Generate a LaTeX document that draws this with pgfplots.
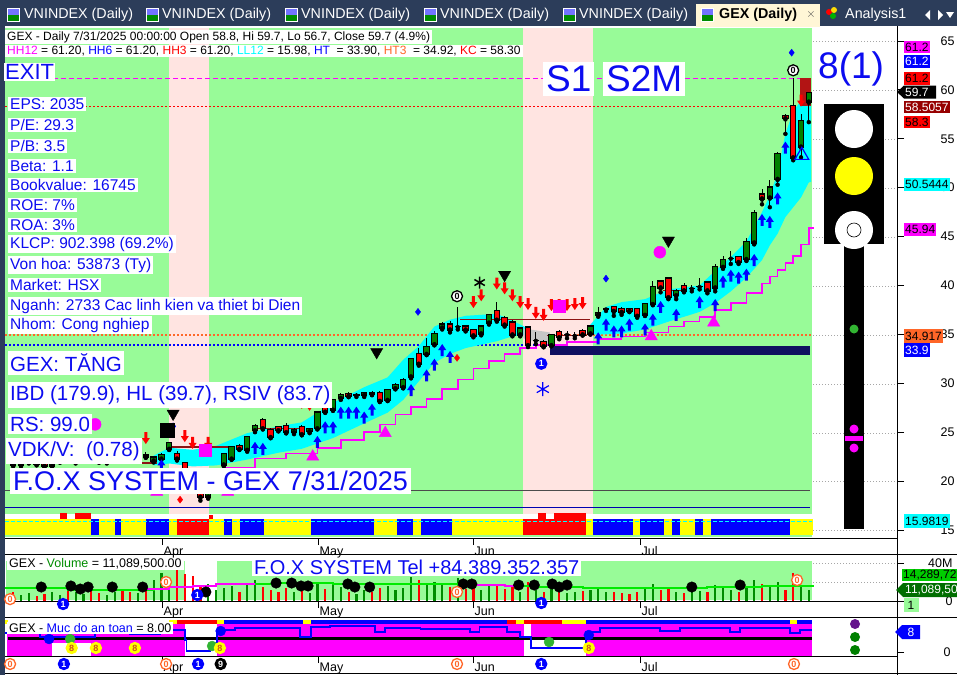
\documentclass[border=0pt]{standalone}
\usepackage{pgfplots}
\pgfplotsset{compat=1.18}
\usepackage{pgfplotstable}
\usepackage{fontspec}
\setmainfont{Liberation Sans}
\newcommand\fs[1]{\fontsize{#1}{#1}\selectfont}
\definecolor{tabbg}{RGB}{44,61,90}
\definecolor{tabcream}{RGB}{255,246,214}
\definecolor{pgreen}{RGB}{152,251,152}
\definecolor{ppink}{RGB}{255,228,225}
\definecolor{fblue}{RGB}{12,12,240}
\definecolor{mag}{RGB}{255,0,255}
\definecolor{navyb}{RGB}{16,16,96}
\definecolor{cgreen}{RGB}{0,128,0}
\definecolor{dred}{RGB}{150,0,0}
\definecolor{brl}{RGB}{140,20,20}
\definecolor{orng}{RGB}{255,102,40}
\definecolor{dkgreen}{RGB}{0,110,0}
\definecolor{lgreen}{RGB}{0,204,0}
\definecolor{vgreen}{RGB}{0,140,0}
\definecolor{maline}{RGB}{0,235,0}
\definecolor{ylw}{RGB}{255,255,0}
\definecolor{purp}{RGB}{100,20,140}
\definecolor{dred2}{RGB}{178,20,20}
\definecolor{cy}{RGB}{0,255,255}
\definecolor{gdot}{RGB}{50,180,50}

\pgfplotsset{
  circlab/.style n args={3}{only marks, mark=none, point meta=explicit symbolic, nodes near coords,
     every node near coord/.append style={circle, draw=#1, fill=#2, text=#3, line width=1.3pt, inner sep=0pt,
     minimum size=11pt, font=\fs{9}\bfseries, anchor=center}},
}
\pgfdeclareplotmark{uparr}{%
  \pgfpathmoveto{\pgfqpoint{-4pt}{0pt}}\pgfpathlineto{\pgfqpoint{0pt}{6pt}}\pgfpathlineto{\pgfqpoint{4pt}{0pt}}%
  \pgfpathlineto{\pgfqpoint{1.5pt}{0pt}}\pgfpathlineto{\pgfqpoint{1.5pt}{-6pt}}\pgfpathlineto{\pgfqpoint{-1.5pt}{-6pt}}%
  \pgfpathlineto{\pgfqpoint{-1.5pt}{0pt}}\pgfpathclose\pgfusepathqfill}
\pgfdeclareplotmark{dnarr}{%
  \pgfpathmoveto{\pgfqpoint{-4pt}{0pt}}\pgfpathlineto{\pgfqpoint{0pt}{-6pt}}\pgfpathlineto{\pgfqpoint{4pt}{0pt}}%
  \pgfpathlineto{\pgfqpoint{1.5pt}{0pt}}\pgfpathlineto{\pgfqpoint{1.5pt}{6pt}}\pgfpathlineto{\pgfqpoint{-1.5pt}{6pt}}%
  \pgfpathlineto{\pgfqpoint{-1.5pt}{0pt}}\pgfpathclose\pgfusepathqfill}

% up candles: i open high low close volume(M)
\pgfplotstableread{
i O H L C V
0 21.7 22.2 21.5 22.0 6
1 22.0 22.4 21.8 22.1 8
4 21.6 22.1 21.5 22.0 10
5 22.0 22.5 21.9 22.3 6
7 22.1 22.4 21.8 22.2 9
8 22.2 22.8 22.1 22.6 7
11 22.0 22.4 21.8 22.3 6
12 22.3 22.9 22.2 22.7 9
15 22.1 22.7 22.0 22.6 8
17 22.1 22.5 21.9 22.4 22
18 22.3 22.9 22.2 22.7 30
19 23.3 24.0 23.2 23.9 24
24 18.4 19.6 18.2 19.4 18
25 19.4 21.2 19.3 21.0 12
26 21.7 22.9 21.5 22.8 14
27 22.3 23.6 22.2 23.5 16
29 23.2 24.6 23.0 24.5 17
30 25.2 25.8 25.0 25.6 22
35 25.0 25.4 24.8 25.2 9
37 25.1 25.4 24.9 25.3 8
38 25.4 27.2 25.3 27.0 20
40 27.3 28.4 27.2 28.3 18
41 28.5 29.0 28.3 28.8 15
44 28.8 29.1 28.6 29.0 12
47 28.3 29.4 28.2 29.3 16
48 29.5 30.0 29.4 29.8 12
49 29.6 30.5 29.5 30.3 14
50 30.7 32.6 30.5 32.5 25
52 33.0 34.6 32.9 33.7 18
53 34.0 35.3 33.9 35.0 20
54 35.7 36.3 35.5 36.0 17
59 35.1 36.0 34.9 35.8 12
60 36.2 37.1 36.0 37.0 16
64 35.0 35.8 34.8 35.6 10
68 33.9 35.0 33.8 34.9 14
73 35.1 36.0 35.0 35.8 12
74 37.0 37.8 36.8 37.2 15
80 37.0 38.2 36.9 38.1 13
81 38.1 40.5 38.0 39.8 18
84 39.0 39.6 38.6 39.4 9
89 39.8 42.2 39.4 41.9 17
90 41.9 43.0 41.7 42.6 14
93 42.7 44.9 42.5 44.4 16
94 44.4 47.7 44.2 47.4 22
96 49.0 50.8 48.0 50.0 15
97 50.9 53.6 50.3 53.4 20
100 54.2 57.5 53.1 56.8 16
101 58.8 59.7 56.7 59.7 11.09
}\cup
% down candles
\pgfplotstableread{
i O H L C V
-1 22.0 22.3 21.5 21.7 9
2 22.1 22.3 21.6 21.8 5
3 21.8 22.0 21.4 21.6 7
6 22.3 22.6 22.0 22.1 12
9 22.6 22.7 22.2 22.3 11
10 22.3 22.5 21.9 22.0 8
13 22.7 22.9 22.3 22.4 13
14 22.4 22.6 22.0 22.1 10
16 22.6 23.0 22.4 22.5 12
20 22.8 23.1 22.1 22.3 35
21 21.8 22.0 20.5 20.6 28
22 20.6 20.8 19.0 19.2 26
23 19.2 19.5 18.0 18.4 15
28 23.6 23.8 23.2 23.3 10
31 26.2 26.4 25.3 25.4 15
32 25.2 25.4 24.4 24.5 12
33 25.5 25.6 25.1 25.2 10
34 25.6 25.9 24.9 25.0 14
36 25.5 25.7 24.7 24.8 11
39 27.5 27.7 27.0 27.1 13
42 28.9 29.1 28.6 28.7 9
45 29.0 29.2 28.8 28.9 10
46 29.0 29.2 28.1 28.2 14
51 33.0 33.6 31.8 32.0 22
55 36.0 36.4 35.2 35.5 15
57 35.8 36.0 35.3 35.5 13
58 35.4 35.6 34.7 34.9 14
61 37.4 38.3 36.3 36.5 18
62 36.7 36.9 35.8 36.0 13
63 36.2 36.5 34.8 35.0 15
65 35.7 35.9 33.7 33.9 20
67 34.2 34.4 33.7 33.8 9
69 35.2 35.4 34.5 34.7 10
72 35.3 35.5 34.9 35.0 11
76 37.8 37.9 36.9 37.4 9
77 37.6 37.8 37.0 37.3 8
78 37.6 37.7 37.3 37.4 7
79 37.6 37.7 36.7 36.9 9
82 40.4 40.5 39.3 39.8 12
83 40.7 40.8 38.6 38.8 14
85 39.9 40.3 39.3 39.5 8
88 40.3 40.4 39.2 39.5 9
92 42.9 43.0 42.2 42.4 10
95 49.3 49.9 48.3 48.9 18
98 57.3 57.5 55.5 57.1 12
99 58.3 61.2 52.8 53.1 30
}\cdn
% doji candles
\pgfplotstableread{
i O H L C V
43 28.8 29.0 28.6 28.8 7
56 35.8 37.8 35.5 35.8 24
66 34.4 35.2 34.0 34.4 12
70 35.0 35.3 34.6 35.0 8
71 34.9 35.2 34.6 34.9 9
75 37.6 37.7 37.4 37.6 10
86 39.7 40.0 39.4 39.7 10
87 39.9 40.8 39.6 39.9 11
91 42.8 43.5 42.2 42.8 12
}\cdj

\newcommand\R[5]{\fill[#1] (#2,#3) rectangle (#4,#5);}
\newcommand\G[1]{\draw[gray!70, dash pattern=on 1pt off 2pt] (813,#1) -- (896,#1);}
\tikzset{tb/.style={fill=white, text=fblue, anchor=west, inner xsep=2pt, inner ysep=1.5pt}}
\pgfplotsset{
  wick/.style={only marks, mark=none, error bars/.cd, y dir=plus, y explicit, error mark=none,
     error bar style={line width=1pt, black}},
  body/.style 2 args={only marks, mark=none, error bars/.cd, y dir=plus, y explicit, error mark=none,
     error bar style={line width=#1, #2}},
}

\begin{document}
\begin{tikzpicture}
\useasboundingbox (0,0) rectangle (957pt,675pt);
%================ background canvas (pixel coordinates)
\begin{axis}[at={(0pt,0pt)},anchor=south west,scale only axis,width=957pt,height=675pt,
  xmin=0,xmax=957,ymin=0,ymax=675,y dir=reverse,hide axis,clip=false]
\R{white}{0}{0}{957}{675}
\R{tabbg}{0}{0}{957}{26}
\R{tabbg}{0}{26}{4.5}{675}
\R{tabcream}{696}{4}{820}{27}
\R{pgreen}{5}{28}{812}{514}
\R{ppink}{169}{28}{209}{514}
\R{ppink}{523}{28}{593}{514}
\R{ylw}{5}{519}{91}{535}\R{blue}{91}{519}{99}{535}\R{ylw}{99}{519}{115}{535}\R{blue}{115}{519}{121}{535}
\R{ylw}{121}{519}{146}{535}\R{blue}{146}{519}{169}{535}\R{ylw}{169}{519}{177}{535}\R{red}{177}{519}{209}{535}
\R{ylw}{209}{519}{224}{535}\R{blue}{224}{519}{232}{535}\R{ylw}{232}{519}{240}{535}\R{blue}{240}{519}{264}{535}
\R{ylw}{264}{519}{311}{535}\R{blue}{311}{519}{374}{535}\R{ylw}{374}{519}{397}{535}\R{blue}{397}{519}{413}{535}
\R{ylw}{413}{519}{421}{535}\R{blue}{421}{519}{452}{535}\R{ylw}{452}{519}{523}{535}\R{red}{523}{519}{586}{535}
\R{ylw}{586}{519}{593}{535}\R{blue}{593}{519}{633}{535}\R{ylw}{633}{519}{640}{535}\R{blue}{640}{519}{664}{535}
\R{ylw}{664}{519}{672}{535}\R{blue}{672}{519}{680}{535}\R{ylw}{680}{519}{695}{535}\R{blue}{695}{519}{703}{535}
\R{ylw}{703}{519}{711}{535}\R{blue}{711}{519}{790}{535}\R{ylw}{790}{519}{813}{535}
\R{red}{60}{513}{67}{519}\R{red}{75}{513}{91}{519}\R{red}{538}{513}{546}{519}\R{red}{554}{513}{586}{519}\R{red}{209}{515}{213}{519}
\R{pgreen}{5}{535}{812}{537}
\draw[cy, line width=0.8pt, dash pattern=on 4pt off 2pt] (5,521) -- (812,521);
\G{41}\G{90}\G{139}\G{188}\G{237}\G{286}\G{335}\G{384}\G{433}\G{481}\G{530}\G{563}\G{582}
\R{pgreen}{6}{561}{185}{600}
\R{pgreen}{217}{561}{812}{600}
\R{ylw}{5}{620}{8}{624}\R{ylw}{169}{620}{177}{624}\R{red}{177}{620}{217}{624}\R{ylw}{217}{620}{224}{624}
\R{blue}{224}{620}{303}{624}\R{ylw}{303}{620}{311}{624}\R{blue}{311}{620}{507}{624}\R{red}{507}{620}{516}{624}
\R{ylw}{516}{620}{524}{624}\R{red}{524}{620}{562}{624}\R{ylw}{562}{620}{586}{624}\R{blue}{586}{620}{790}{624}
\R{ylw}{790}{620}{797}{624}\R{blue}{797}{620}{812}{624}
\draw[black, line width=1pt] (5,554) -- (957,554);
\draw[black, line width=1pt] (5,617) -- (957,617);
\draw[black, line width=1pt] (5,673) -- (957,673);
\draw[black, line width=1pt] (897,26) -- (897,675);
\end{axis}

%================ main price axis
\begin{axis}[at={(5pt,137pt)},anchor=south west,scale only axis,width=892pt,height=512pt,
  xmin=-2.0513,xmax=112.3077,ymin=14.18,ymax=66.53,
  axis x line*=bottom, axis y line*=right, axis line style={black,line width=1pt},
  xtick={18.08,38.08,57.95,79.36}, xticklabels={Apr,May,Jun,Jul},
  ytick={15,20,25,30,35,40,45,50,55,60,65}, yticklabels={15,20,25,30,35,40,45,50,55,60,65},
  tick align=outside, major tick length=7pt, tick style={black,line width=0.8pt},
  ticklabel style={font=\fs{12.5}},
  xticklabel style={anchor=north west, inner sep=1.5pt},
  yticklabel style={anchor=east, xshift=54pt}]
\addplot[mag, line width=0.9pt, dash pattern=on 5pt off 3pt] coordinates {(-2.05,61.2)(101.4,61.2)};
\addplot[red, line width=1.6pt, dash pattern=on 2pt off 2pt] coordinates {(-2.05,58.3)(101.4,58.3)};
\addplot[orng, line width=1.6pt, dash pattern=on 2pt off 2pt] coordinates {(-2.05,34.92)(101.4,34.92)};
\addplot[blue, line width=1.6pt, dash pattern=on 2pt off 2pt] coordinates {(-2.05,33.9)(67.8,33.9)};
\addplot[gray!60!black, line width=0.7pt] coordinates {(-2.05,19.09)(101.2,19.09)};
\addplot[blue!70!black, line width=0.9pt] coordinates {(-2.05,17.3)(101.2,17.3)};
% cyan bands (upper edge forward, lower edge back)
\addplot[fill=cy, draw=none] coordinates {(17,22.6)(19,23.4)(22,23.2)(25,23.6)(29,24.9)(33,25.6)(36,26.0)(40,28.0)(44,29.6)(47,30.6)(49,32.4)(51,33.8)(53,35.8)(55,36.5)(57,36.9)(61,37.1)(63,36.4)(65,35.6)(65,35.0)(63,34.8)(61,34.3)(57,33.6)(55,33.0)(53,32.1)(51,30.2)(49,28.3)(47,27.0)(44,25.9)(40,24.4)(36,23.3)(33,22.9)(29,22.2)(25,21.6)(22,21.5)(19,21.8)(17,21.6)};
\addplot[fill=cy, draw=none] coordinates {(73,36.0)(75,37.8)(77,38.3)(80,38.6)(83,39.6)(87,40.0)(89,41.5)(91,42.9)(93,44.5)(95,47.5)(96,49.2)(97,51.5)(98,55.5)(99,57.8)(100,58.9)(101,58.5)(101.3,58.5)(101.3,50.6)(101,50.54)(100,49.0)(99,48.0)(98,47.0)(97,45.3)(96,44.1)(95,42.6)(93,40.8)(91,39.4)(89,38.2)(87,37.3)(83,36.3)(80,35.5)(77,35.1)(75,35.0)(73,35.0)};
\addplot[fill=gray!45, draw=none] coordinates {(64.4,35.6)(67.8,35.2)(67.8,33.9)(64.4,34.6)};
\addplot[fill=navyb, draw=none] coordinates {(67.8,32.9)(101.2,32.9)(101.2,33.85)(67.8,33.85)};
\addplot[fill=dred2, draw=none] coordinates {(99.9,58.3)(101.3,58.3)(101.3,61.2)(99.9,61.2)};
\addplot[brl, line width=1.4pt] coordinates {(-1.8,21.85)(17.4,21.85)};
\addplot[brl, line width=1.4pt] coordinates {(18.8,23.5)(26.8,23.5)};
\addplot[brl, line width=1.4pt] coordinates {(30.3,25.4)(36.2,25.4)};
\addplot[brl, line width=1.4pt] coordinates {(56.3,36.5)(72.9,36.5)};
\addplot[brl, line width=1.4pt] coordinates {(67.4,34.9)(72.6,34.9)};
\addplot[brl, line width=1.4pt] coordinates {(82.3,39.5)(84.9,39.5)};
\addplot[mag, line width=1.6pt, const plot] coordinates {(17,20.6)(22,21.0)(26,21.4)(30,22.3)(34,22.8)(38,23.4)(41,24.2)(44,25.0)(46,25.8)(48,26.8)(50,27.6)(52,28.4)(54,29.4)(56,30.4)(58,31.5)(60,32.3)(62,33.0)(64,33.6)(66,33.9)(70,34.2)(74,34.5)(77,34.8)(80,35.2)(83,35.8)(85,36.3)(87,36.8)(89,37.5)(91,38.2)(93,39.2)(95,40.2)(96,40.9)(97,41.6)(98,42.3)(99,43.0)(100,44.2)(101,45.9)(101.6,45.94)};
% candle wicks
\addplot[wick] table[x=i, y=L, y error expr={\thisrow{H}-\thisrow{L}}] {\cup};
\addplot[wick] table[x=i, y=L, y error expr={\thisrow{H}-\thisrow{L}}] {\cdn};
\addplot[wick] table[x=i, y=L, y error expr={\thisrow{H}-\thisrow{L}}] {\cdj};
% candle bodies
\addplot[body={6.4pt}{black}] table[x=i, y expr={\thisrow{O}-0.12}, y error expr={\thisrow{C}-\thisrow{O}+0.24}] {\cup};
\addplot[body={4.4pt}{cgreen}] table[x=i, y=O, y error expr={\thisrow{C}-\thisrow{O}}] {\cup};
\addplot[body={6.4pt}{black}] table[x=i, y expr={\thisrow{C}-0.12}, y error expr={\thisrow{O}-\thisrow{C}+0.24}] {\cdn};
\addplot[body={4.4pt}{red}] table[x=i, y=C, y error expr={\thisrow{O}-\thisrow{C}}] {\cdn};
\addplot[body={6.4pt}{black}] table[x=i, y expr={\thisrow{C}-0.06}, y error expr={0.12}] {\cdj};
% signal markers
\addplot[only marks, mark=uparr, blue] coordinates {(18,21.6)(30,23.4)(31,23.3)(38,24.0)(39,25.5)(40,25.5)(41,27.0)(42,27.0)(43,27.0)(44,26.5)(45,27.3)(50,29.3)(52,30.8)(53,31.9)(54,33.4)(55,32.7)(74,34.6)(75,36.0)(76,35.3)(77,35.3)(78,36.0)(80,35.5)(81,36.5)(82,37.8)(84,37.0)(87,38.3)(89,38.0)(90,40.4)(91,41.0)(92,40.8)(93,41.1)(94,42.6)(95,46.7)(96,46.5)(97,48.9)(98,54.1)};
\addplot[only marks, mark=dnarr, red] coordinates {(16,24.4)(21,24.6)(22,23.9)(24,23.9)(36,28.0)(37,27.8)(58,38.3)(59,39.0)(61,40.2)(62,39.7)(63,39.0)(64,38.3)(65,38.1)(66,37.2)(67,37.0)(68,38.0)(69,38.0)(70,38.0)(71,38.1)(72,38.2)(100,58.9)};
\addplot[only marks, mark=triangle*, black, mark size=7pt, mark options={rotate=180}] coordinates {(19.5,26.9)(45.6,33.2)(62,41.1)(83,44.6)};
\addplot[only marks, mark=triangle*, mag, mark size=7pt] coordinates {(17.4,18.9)(26.5,18.9)(37.4,22.5)(46.7,24.9)(80.8,34.8)(88.8,36.2)};
\addplot[only marks, mark=*, mag, mark size=6pt] coordinates {(9.5,25.8)(81.9,43.4)};
\addplot[only marks, mark=square*, mag, mark size=6pt] coordinates {(69,37.9)(23.6,23.2)};
\addplot[only marks, mark=diamond*, blue, mark size=3.5pt] coordinates {(75,40.7)(50.9,37.3)(98.8,63.8)(19.5,25.6)};
\addplot[only marks, mark=diamond*, red, mark size=3.5pt] coordinates {(55.9,32.6)(20.4,18.1)};
\addplot[only marks, mark=square*, black, mark size=7pt] coordinates {(18.7,25.2)};
\addplot[only marks, mark=asterisk, black, mark size=6pt, line width=1.5pt] coordinates {(58.8,40.3)};
\addplot[only marks, mark=asterisk, blue, mark size=7pt, line width=1.2pt] coordinates {(66.9,29.4)};
\addplot[only marks, mark=triangle, blue, mark size=8pt, line width=1.2pt] coordinates {(100.1,53.3)};
\addplot[circlab={black}{white}{black}] coordinates {(55.9,38.9)[0] (99,62.0)[0]};
\addplot[circlab={blue}{blue}{white}] coordinates {(66.7,32.0)[1]};
\end{axis}

%================ volume axis
\begin{axis}[at={(5pt,74pt)},anchor=south west,scale only axis,width=892pt,height=47pt,
  xmin=-2.0513,xmax=112.3077,ymin=0,ymax=49.47,
  axis x line*=bottom, axis y line*=right, axis line style={black,line width=1pt},
  xtick={18.08,38.08,57.95,79.36}, xticklabels={Apr,May,Jun,Jul},
  ytick={0,40}, yticklabels={0,40M},
  tick align=outside, major tick length=7pt, tick style={black,line width=0.8pt},
  ticklabel style={font=\fs{12.5}},
  xticklabel style={anchor=north west, inner sep=1.5pt, yshift=3pt},
  yticklabel style={anchor=east, xshift=52pt},
  clip=false]
\addplot[ycomb, vgreen, line width=2.2pt, mark=none] table[x=i,y=V] {\cup};
\addplot[ycomb, vgreen, line width=2.2pt, mark=none] table[x=i,y=V] {\cdj};
\addplot[ycomb, red, line width=2.2pt, mark=none] table[x=i,y=V] {\cdn};
\addplot[maline, line width=2pt, const plot] coordinates {(-2,13.7)(4,13.2)(6,11.6)(12,11.6)(17,12.5)(19,14.7)(22,15.5)(25,17.9)(33,18.9)(40,17.9)(50,17.9)(56,16.8)(62,16.0)(66,14.7)(72,14.0)(80,14.2)(88,14.7)(95,15.5)(101.5,14.29)};
\addplot[mag, line width=2pt, const plot] coordinates {(16,12.5)(17,12.5)(19,14.7)(22,15.5)(25,17.9)(30,17.9)};
\addplot[mag, line width=2pt, const plot] coordinates {(56,16.8)(62,16.0)(64,16.0)};
\addplot[only marks, mark=*, black, mark size=5.3pt] coordinates {(2.6,14.7)(6.4,15.8)(7.6,12.6)(8.6,14.7)(11.7,14.7)(15.6,14.7)(23.7,9.5)(32.7,18.9)(34.7,18.9)(35.9,15.8)(36.8,15.8)(41.9,17.9)(42.8,14.7)(44.7,14.7)(56.7,17.9)(57.8,17.9)(63.8,16.8)(65.8,16.8)(68.1,17.9)(69.0,14.7)(70.0,16.8)(86.0,14.7)(92.2,16.8)};
\addplot[circlab={orng}{white}{orng}] coordinates {(-1.4,2)[0] (18.6,20)[0] (55.9,9.5)[0] (99.5,22)[0]};
\addplot[circlab={blue}{blue}{white}] coordinates {(5.4,-3.2)[1] (22.6,6.3)[1] (66.7,-2.1)[1]};
\end{axis}

%================ safety indicator axis
\begin{axis}[at={(5pt,19pt)},anchor=south west,scale only axis,width=892pt,height=39pt,
  xmin=-2.0513,xmax=112.3077,ymin=-1.6,ymax=14,
  axis x line*=bottom, axis y line*=right, axis line style={black,line width=1pt},
  xtick={18.08,38.08,57.95,79.36}, xticklabels={Apr,May,Jun,Jul},
  ytick={0}, yticklabels={0},
  tick align=outside, major tick length=7pt, tick style={black,line width=0.8pt},
  ticklabel style={font=\fs{12.5}},
  xticklabel style={anchor=north west, inner sep=1.5pt, yshift=2pt},
  yticklabel style={anchor=east, xshift=50pt},
  clip=false]
\addplot[fill=mag, draw=none] coordinates {(-1.77,-1.6)(101.4,-1.6)(101.4,11.2)(-1.77,11.2)};
\addplot[fill=white, draw=none] coordinates {(4.0,-1.6)(9.0,-1.6)(9.0,3.6)(4.0,3.6)};
\addplot[fill=white, draw=none] coordinates {(21.0,-1.6)(25.1,-1.6)(25.1,11.2)(21.0,11.2)};
\addplot[fill=white, draw=none] coordinates {(64.5,-1.6)(65.4,-1.6)(65.4,11.2)(64.5,11.2)};
\addplot[fill=white, draw=none] coordinates {(65.4,-1.6)(72.4,-1.6)(72.4,6.0)(65.4,6.0)};
\addplot[black, line width=2.5pt] coordinates {(-1.7,5.4)(101.4,5.4)};
\addplot[blue, line width=1.6pt, const plot] coordinates {(-2.05,7.6)(2.4,6.0)(9.5,7.6)(14.0,7.2)(17.8,8.8)(21.0,4.8)(21.2,0.4)(24.2,2.8)(25.1,8.8)(27.4,9.6)(35.8,6.0)(37.2,10.0)(39.6,10.4)(45.4,8.0)(46.7,9.6)(51.2,9.2)(57.6,8.0)(58.8,10.0)(62.3,8.0)(64.0,6.0)(65.4,1.6)(72.4,8.0)(74.2,9.6)(81.9,8.4)(84.5,9.6)(90.9,8.0)(92.2,9.6)(98.6,7.6)(99.9,8.8)(101.4,8.8)};
\addplot[only marks, mark=*, blue, mark size=5pt] coordinates {(3.6,5.2)(25.6,8.4)(72.8,6.8)};
\addplot[only marks, mark=*, gdot, mark size=5pt] coordinates {(6.3,5.2)(24.5,2.4)(67.7,4.0)};
\addplot[circlab={ylw}{ylw}{orng!80!black}] coordinates {(6.5,1.6)[8] (9.6,1.6)[8] (14.6,1.6)[8] (25.5,1.6)[8] (72.8,1.6)[8]};
\addplot[circlab={orng}{white}{orng}] coordinates {(-1.4,-4.8)[0] (18.6,-4.8)[0] (55.9,-4.8)[0] (99.1,-4.8)[0]};
\addplot[circlab={blue}{blue}{white}] coordinates {(5.5,-4.8)[1] (22.7,-4.8)[1] (66.7,-4.8)[1]};
\addplot[circlab={black}{black}{white}] coordinates {(25.6,-4.8)[9]};
\end{axis}

%================ foreground canvas (pixel coordinates)
\begin{axis}[at={(0pt,0pt)},anchor=south west,scale only axis,width=957pt,height=675pt,
  xmin=0,xmax=957,ymin=0,ymax=675,y dir=reverse,hide axis,clip=false]
\R{white}{7}{8}{20}{22}\R{blue!55}{8}{9}{19}{15}\R{green!55!black}{8}{15}{19}{21}
\R{white}{146}{8}{159}{22}\R{blue!55}{147}{9}{158}{15}\R{green!55!black}{147}{15}{158}{21}
\R{white}{285}{8}{298}{22}\R{blue!55}{286}{9}{297}{15}\R{green!55!black}{286}{15}{297}{21}
\R{white}{424}{8}{437}{22}\R{blue!55}{425}{9}{436}{15}\R{green!55!black}{425}{15}{436}{21}
\R{white}{563}{8}{576}{22}\R{blue!55}{564}{9}{575}{15}\R{green!55!black}{564}{15}{575}{21}
\R{white}{701}{8}{714}{22}\R{blue!55}{702}{9}{713}{15}\R{green!55!black}{702}{15}{713}{21}
\node[anchor=west, text=white, font=\fs{14.3}, inner sep=0pt] at (24,15) {VNINDEX (Daily)};
\node[anchor=west, text=white, font=\fs{14.3}, inner sep=0pt] at (162,15) {VNINDEX (Daily)};
\node[anchor=west, text=white, font=\fs{14.3}, inner sep=0pt] at (301,15) {VNINDEX (Daily)};
\node[anchor=west, text=white, font=\fs{14.3}, inner sep=0pt] at (440,15) {VNINDEX (Daily)};
\node[anchor=west, text=white, font=\fs{14.3}, inner sep=0pt] at (579,15) {VNINDEX (Daily)};
\node[anchor=west, text=black, font=\fs{14.3}\bfseries, inner sep=0pt] at (719,15) {GEX (Daily)};
\node[text=black!70, font=\fs{12}, inner sep=0pt] at (811,14) {$\times$};
\fill[red] (829,12) circle (3);\fill[yellow!80!orange] (834,10) circle (3);\fill[green!70!black] (833,16) circle (3);
\node[anchor=west, text=white, font=\fs{14.3}, inner sep=0pt] at (845,15) {Analysis1};
\fill[white] (925,15) -- (930,10) -- (930,20) -- cycle;
\fill[white] (938,10) -- (943,15) -- (938,20) -- cycle;
\fill[white] (946,12) -- (954,12) -- (950,18) -- cycle;
\node[fill=white, anchor=west, inner xsep=2pt, inner ysep=1pt, font=\fs{12}] at (5,37) {GEX - Daily 7/31/2025 00:00:00 Open 58.8, Hi 59.7, Lo 56.7, Close 59.7 (4.9\%)};
\node[fill=white, anchor=west, inner xsep=2pt, inner ysep=1pt, font=\fs{12}] at (5,51) {{\color{mag}HH12} = 61.20, {\color{blue}HH6} = 61.20, {\color{red}HH3} = 61.20, {\color{cy}LL12} = 15.98, {\color{blue}HT}\ \ = 33.90, {\color{orng}HT3}\ \ = 34.92, {\color{red}KC} = 58.30};
\node[tb, font=\fs{22}, inner xsep=1pt] at (4,72) {EXIT};
\node[tb, font=\fs{15.5}] at (8,104) {EPS: 2035};
\node[tb, font=\fs{15.5}] at (8,125) {P/E: 29.3};
\node[tb, font=\fs{15.5}] at (8,146) {P/B: 3.5};
\node[tb, font=\fs{15.5}] at (8,166) {Beta: 1.1};
\node[tb, font=\fs{15.5}] at (8,185) {Bookvalue: 16745};
\node[tb, font=\fs{15.5}] at (8,205) {ROE: 7\%};
\node[tb, font=\fs{15.5}] at (8,225) {ROA: 3\%};
\node[tb, font=\fs{15.5}] at (8,244) {KLCP: 902.398 (69.2\%)};
\node[tb, font=\fs{15.5}] at (8,265) {Von hoa: 53873 (Ty)};
\node[tb, font=\fs{15.5}] at (8,285) {Market: HSX};
\node[tb, font=\fs{15.5}] at (8,306) {Nganh: 2733 Cac linh kien va thiet bi Dien};
\node[tb, font=\fs{15.5}] at (8,325) {Nhom: Cong nghiep};
\node[tb, font=\fs{20.5}, inner ysep=3pt] at (8,363) {GEX: TĂNG};
\node[tb, font=\fs{20.5}, inner ysep=3pt] at (8,395) {IBD (179.9), HL (39.7), RSIV (83.7)};
\node[tb, font=\fs{20.5}, inner ysep=3pt] at (8,424) {RS: 99.0};
\node[tb, font=\fs{20.5}, inner ysep=3pt] at (6,451) {VDK/V:\ \ (0.78)};
\node[tb, font=\fs{27}, inner xsep=3pt, inner ysep=3pt] at (10,481) {F.O.X SYSTEM - GEX 7/31/2025};
\node[tb, font=\fs{37}, inner xsep=3pt, inner ysep=4pt] at (543,79) {S1};
\node[tb, font=\fs{37}, inner xsep=3pt, inner ysep=4pt] at (603,79) {S2M};
\node[anchor=west, text=fblue, font=\fs{37}, inner sep=0pt] at (818,69) {8(1)};
\R{black}{824}{104}{884}{244}
\R{black}{844}{244}{864}{529}
\fill[white] (854,129) circle (19);
\fill[ylw] (854,176) circle (19);
\fill[white] (854,230) circle (19);
\draw[black, line width=0.6pt] (854,230) circle (7);
\fill[gdot] (854,329) circle (4.5);
\fill[mag] (854,429) circle (4.5);
\R{mag}{845}{436}{863}{441}
\fill[mag] (854,448) circle (4.5);
\node[fill=mag, text=black, anchor=west, inner sep=1pt, minimum height=12.5pt, font=\fs{12}] at (904,47) {61.2};
\node[fill=blue, text=white, anchor=west, inner sep=1pt, minimum height=13pt, font=\fs{12}] at (904,61) {61.2};
\node[fill=red, text=black, anchor=west, inner sep=1pt, minimum height=13pt, font=\fs{12}] at (904,78) {61.2};
\fill[black] (897,92) -- (904,85.5) -- (936,85.5) -- (936,98.5) -- (904,98.5) -- cycle;
\node[text=white, anchor=west, inner sep=1pt, font=\fs{12}] at (904,92) {59.7};
\node[fill=dred, text=white, anchor=west, inner sep=1pt, minimum height=12.5pt, font=\fs{12}] at (904,107) {58.5057};
\node[fill=red, text=black, anchor=west, inner sep=1pt, minimum height=12.5pt, font=\fs{12}] at (904,122) {58.3};
\node[fill=cy, text=black, anchor=west, inner sep=1pt, minimum height=13pt, font=\fs{12}] at (904,184) {50.5444};
\node[fill=mag, text=black, anchor=west, inner sep=1pt, minimum height=13pt, font=\fs{12}] at (904,229) {45.94};
\node[fill=orng, text=black, anchor=west, inner sep=1pt, minimum height=14pt, font=\fs{12}] at (904,336) {34.917};
\node[fill=blue, text=white, anchor=west, inner sep=1pt, minimum height=14pt, font=\fs{12}] at (904,350) {33.9};
\node[fill=cy, text=black, anchor=west, inner sep=1pt, minimum height=14pt, font=\fs{12}] at (904,521) {15.9819};
\node[fill=white, anchor=west, inner xsep=2pt, inner ysep=1pt, font=\fs{12.5}] at (7,564) {GEX - {\color{vgreen}Volume} = 11,089,500.00};
\node[tb, font=\fs{20}, inner ysep=2pt] at (252,567) {F.O.X SYSTEM Tel +84.389.352.357};
\node[fill=lgreen, text=black, anchor=west, inner sep=1pt, minimum height=12pt, font=\fs{12}] at (902,575) {14,289,72};
\fill[dkgreen] (896,590) -- (903,583) -- (957,583) -- (957,597) -- (903,597) -- cycle;
\node[text=white, anchor=west, inner sep=1pt, font=\fs{12}] at (904,590) {11,089,50};
\node[fill=pgreen, text=black, inner sep=0pt, minimum width=15pt, minimum height=14pt, font=\fs{12}] at (911,605) {1};
\node[fill=white, anchor=west, inner xsep=2pt, inner ysep=1pt, font=\fs{12.5}] at (7,628) {GEX - {\color{blue}Muc do an toan} = 8.00};
\fill[blue] (895,632) -- (902,625) -- (920,625) -- (920,639) -- (902,639) -- cycle;
\node[text=white, font=\fs{12}, inner sep=0pt] at (911,632) {8};
\fill[purp] (855,624) circle (5);
\fill[cgreen] (855,637) circle (5);
\fill[cgreen] (855,650) circle (5);
\end{axis}
\end{tikzpicture}
\end{document}
